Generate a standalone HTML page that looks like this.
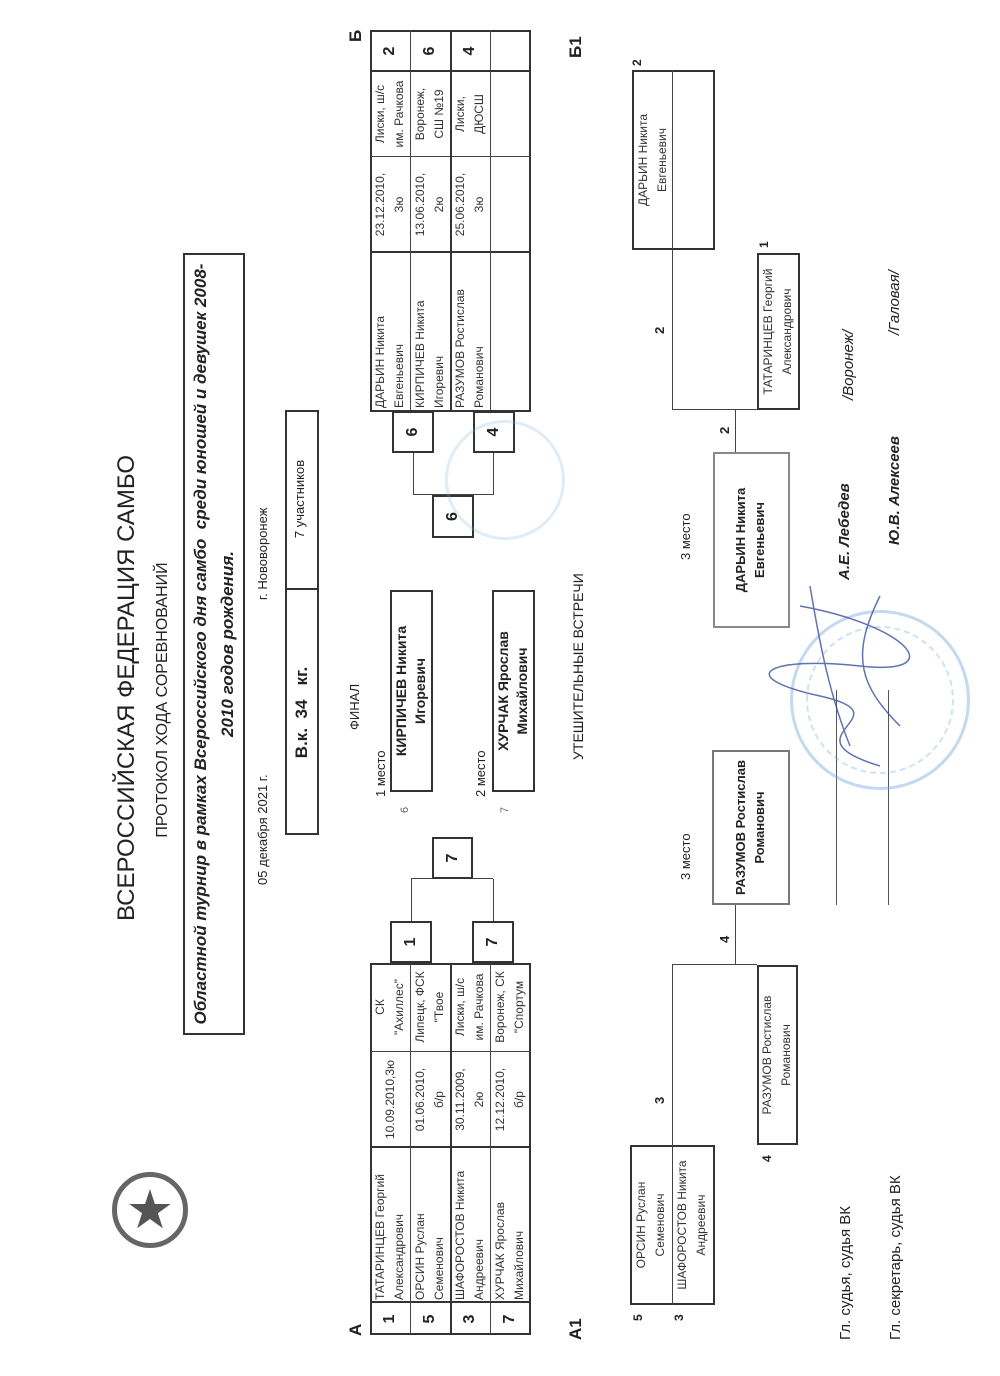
<!DOCTYPE html>
<html><head><meta charset="utf-8"><style>
html,body{margin:0;padding:0;background:#fff;}
body{width:1000px;height:1376px;overflow:hidden;position:relative;}
#L{position:absolute;left:0;top:0;width:1376px;height:1000px;transform-origin:0 0;transform:translateY(1376px) rotate(-90deg);font-family:"Liberation Sans Narrow","Liberation Sans",sans-serif;color:#222;}
#L div{position:absolute;box-sizing:border-box;}
.b{border:2px solid #333;}
.c{text-align:center;}
.s{font-size:12px;line-height:19px;color:#333;}
.n{font-weight:bold;font-size:16px;display:flex;align-items:center;justify-content:center;font-family:"Liberation Sans",sans-serif;}
.hl{height:0;border-top:1px solid #444;}
.vl{width:0;border-left:1px solid #444;}
.cell{padding-left:2px;overflow:hidden;white-space:nowrap;}
</style></head><body>
<div id="L">
<div style="left:128px;top:112px;width:76px;height:76px;border-radius:50%;border:5px solid #666;"></div>
<div style="left:128px;top:112px;width:76px;height:76px;font-size:54px;line-height:76px;text-align:center;color:#555;transform:rotate(90deg);">★</div>

<div style="left:420px;top:113px;width:536px;font-size:24px;text-align:center;font-family:'Liberation Sans',sans-serif;">ВСЕРОССИЙСКАЯ ФЕДЕРАЦИЯ САМБО</div>
<div style="left:476px;top:154px;width:400px;font-size:16px;text-align:center;font-family:'Liberation Sans',sans-serif;">ПРОТОКОЛ ХОДА СОРЕВНОВАНИЙ</div>
<div class="b" style="left:341px;top:183px;width:782px;height:62px;"></div>
<div style="left:343px;top:187px;width:778px;font-size:17px;line-height:27px;text-align:center;font-weight:bold;font-style:italic;white-space:nowrap;font-family:'Liberation Sans Narrow','Liberation Sans',sans-serif;">Областной турнир в рамках Всероссийского дня самбо &nbsp;среди юношей и девушек 2008-<br>2010 годов рождения.</div>
<div style="left:491px;top:255px;font-size:13px;">05 декабря 2021 г.</div>
<div style="left:776px;top:255px;font-size:13px;">г. Нововоронеж</div>
<div class="b" style="left:541px;top:285px;width:425px;height:34px;"></div>
<div class="vl" style="left:786px;top:285px;height:34px;border-left:2px solid #333;"></div>
<div style="left:541px;top:292px;width:245px;text-align:center;font-weight:bold;font-size:17px;font-family:'Liberation Sans',sans-serif;">В.к. &nbsp;34 &nbsp;&nbsp;кг.</div>
<div style="left:788px;top:292px;width:178px;font-size:13px;text-align:center;">7 участников</div>

<div style="left:40px;top:346px;font-size:17px;font-weight:bold;font-family:'Liberation Sans',sans-serif;">А</div>
<div class="b" style="left:41px;top:370px;width:372px;height:161px;"></div>
<div class="vl" style="left:73px;top:370px;height:161px;border-left:2px solid #333;"></div>
<div class="vl" style="left:228px;top:370px;height:161px;border-left:2px solid #333;"></div>
<div class="vl" style="left:324px;top:370px;height:161px;"></div>
<div class="hl" style="left:41px;top:410px;width:372px;"></div>
<div class="hl" style="left:41px;top:450px;width:372px;border-top:2px solid #333;"></div>
<div class="hl" style="left:41px;top:490px;width:372px;"></div>
<div class="n" style="left:41px;top:370px;width:32px;height:40px;">1</div>
<div class="n" style="left:41px;top:410px;width:32px;height:40px;">5</div>
<div class="n" style="left:41px;top:450px;width:32px;height:40px;">3</div>
<div class="n" style="left:41px;top:490px;width:32px;height:40px;">7</div>
<div class="s cell" style="left:74px;top:371px;width:154px;">ТАТАРИНЦЕВ Георгий<br>Александрович</div>
<div class="s cell" style="left:74px;top:411px;width:154px;">ОРСИН Руслан<br>Семенович</div>
<div class="s cell" style="left:74px;top:451px;width:154px;">ШАФОРОСТОВ Никита<br>Андреевич</div>
<div class="s cell" style="left:74px;top:491px;width:154px;">ХУРЧАК Ярослав<br>Михайлович</div>
<div class="s c" style="left:229px;top:381px;width:95px;">10.09.2010,3ю</div>
<div class="s c" style="left:229px;top:411px;width:95px;">01.06.2010,<br>б/р</div>
<div class="s c" style="left:229px;top:451px;width:95px;">30.11.2009,<br>2ю</div>
<div class="s c" style="left:229px;top:491px;width:95px;">12.12.2010,<br>б/р</div>
<div class="s c" style="left:325px;top:371px;width:88px;">СК<br>"Ахиллес"</div>
<div class="s c" style="left:325px;top:411px;width:88px;">Липецк, ФСК<br>"Твое</div>
<div class="s c" style="left:325px;top:451px;width:88px;">Лиски, ш/с<br>им. Рачкова</div>
<div class="s c" style="left:325px;top:491px;width:88px;">Воронеж, СК<br>"Спортум</div>
<div class="b n" style="left:413px;top:390px;width:42px;height:42px;">1</div>
<div class="b n" style="left:413px;top:472px;width:42px;height:42px;">7</div>
<div class="hl" style="left:455px;top:411px;width:42px;"></div>
<div class="hl" style="left:455px;top:493px;width:42px;"></div>
<div class="vl" style="left:497px;top:411px;height:82px;"></div>
<div class="b n" style="left:497px;top:432px;width:42px;height:41px;">7</div>

<div style="left:646px;top:347px;font-size:13px;">ФИНАЛ</div>
<div style="left:579px;top:373px;font-size:13px;">1 место</div>
<div style="left:563px;top:399px;font-size:11px;color:#666;">6</div>
<div class="b" style="left:584px;top:390px;width:202px;height:43px;"></div>
<div class="c" style="left:584px;top:392px;width:202px;font-size:14px;line-height:19px;font-weight:bold;">КИРПИЧЕВ Никита<br>Игоревич</div>
<div style="left:579px;top:473px;font-size:13px;">2 место</div>
<div style="left:563px;top:499px;font-size:11px;color:#666;">7</div>
<div class="b" style="left:584px;top:492px;width:202px;height:43px;"></div>
<div class="c" style="left:584px;top:494px;width:202px;font-size:14px;line-height:19px;font-weight:bold;">ХУРЧАК Ярослав<br>Михайлович</div>

<div style="left:1334px;top:346px;font-size:17px;font-weight:bold;font-family:'Liberation Sans',sans-serif;">Б</div>
<div class="b" style="left:964px;top:370px;width:382px;height:161px;"></div>
<div class="vl" style="left:1123px;top:370px;height:161px;border-left:2px solid #333;"></div>
<div class="vl" style="left:1219px;top:370px;height:161px;"></div>
<div class="vl" style="left:1304px;top:370px;height:161px;border-left:2px solid #333;"></div>
<div class="hl" style="left:964px;top:410px;width:382px;"></div>
<div class="hl" style="left:964px;top:450px;width:382px;border-top:2px solid #333;"></div>
<div class="hl" style="left:964px;top:490px;width:382px;"></div>
<div class="s cell" style="left:966px;top:371px;width:157px;">ДАРЬИН Никита<br>Евгеньевич</div>
<div class="s cell" style="left:966px;top:411px;width:157px;">КИРПИЧЕВ Никита<br>Игоревич</div>
<div class="s cell" style="left:966px;top:451px;width:157px;">РАЗУМОВ Ростислав<br>Романович</div>
<div class="s c" style="left:1124px;top:371px;width:95px;">23.12.2010,<br>3ю</div>
<div class="s c" style="left:1124px;top:411px;width:95px;">13.06.2010,<br>2ю</div>
<div class="s c" style="left:1124px;top:451px;width:95px;">25.06.2010,<br>3ю</div>
<div class="s c" style="left:1220px;top:371px;width:84px;">Лиски, ш/с<br>им. Рачкова</div>
<div class="s c" style="left:1220px;top:411px;width:84px;">Воронеж,<br>СШ №19</div>
<div class="s c" style="left:1220px;top:451px;width:84px;">Лиски,<br>ДЮСШ</div>
<div class="n" style="left:1304px;top:370px;width:42px;height:40px;">2</div>
<div class="n" style="left:1304px;top:410px;width:42px;height:40px;">6</div>
<div class="n" style="left:1304px;top:450px;width:42px;height:40px;">4</div>
<div class="b n" style="left:923px;top:392px;width:42px;height:42px;">6</div>
<div class="b n" style="left:923px;top:473px;width:42px;height:42px;">4</div>
<div class="hl" style="left:881px;top:413px;width:42px;"></div>
<div class="hl" style="left:881px;top:493px;width:42px;"></div>
<div class="vl" style="left:881px;top:413px;height:80px;"></div>
<div class="b n" style="left:838px;top:432px;width:43px;height:42px;">6</div>

<div style="left:616px;top:570px;font-size:14px;">УТЕШИТЕЛЬНЫЕ ВСТРЕЧИ</div>
<div style="left:36px;top:566px;font-size:17px;font-weight:bold;font-family:'Liberation Sans',sans-serif;">А1</div>
<div style="left:1318px;top:566px;font-size:17px;font-weight:bold;font-family:'Liberation Sans',sans-serif;">Б1</div>

<div class="b" style="left:71px;top:630px;width:160px;height:85px;"></div>
<div class="hl" style="left:71px;top:672px;width:160px;"></div>
<div class="c s" style="left:71px;top:632px;width:160px;">ОРСИН Руслан<br>Семенович</div>
<div class="c s" style="left:71px;top:673px;width:160px;">ШАФОРОСТОВ Никита<br>Андреевич</div>
<div style="left:55px;top:631px;font-size:12px;font-weight:bold;">5</div>
<div style="left:55px;top:672px;font-size:12px;font-weight:bold;">3</div>
<div class="hl" style="left:231px;top:672px;width:180px;"></div>
<div style="left:272px;top:652px;font-size:13px;font-weight:bold;">3</div>
<div class="vl" style="left:411px;top:672px;height:85px;"></div>
<div class="b" style="left:231px;top:757px;width:180px;height:41px;"></div>
<div class="c s" style="left:231px;top:758px;width:180px;">РАЗУМОВ Ростислав<br>Романович</div>
<div style="left:214px;top:760px;font-size:12px;font-weight:bold;">4</div>
<div class="hl" style="left:411px;top:735px;width:60px;"></div>
<div style="left:433px;top:717px;font-size:13px;font-weight:bold;">4</div>
<div class="b" style="left:471px;top:712px;width:155px;height:78px;border-color:#777;"></div>
<div class="c" style="left:471px;top:731px;width:155px;font-size:13px;line-height:19px;font-weight:bold;">РАЗУМОВ Ростислав<br>Романович</div>
<div style="left:496px;top:678px;font-size:13px;">3 место</div>

<div class="b" style="left:1126px;top:632px;width:180px;height:83px;"></div>
<div class="hl" style="left:1126px;top:672px;width:180px;"></div>
<div class="c s" style="left:1126px;top:634px;width:180px;">ДАРЬИН Никита<br>Евгеньевич</div>
<div style="left:1310px;top:630px;font-size:12px;font-weight:bold;">2</div>
<div class="hl" style="left:966px;top:672px;width:160px;"></div>
<div style="left:1042px;top:652px;font-size:13px;font-weight:bold;">2</div>
<div class="vl" style="left:966px;top:672px;height:85px;"></div>
<div class="b" style="left:966px;top:757px;width:157px;height:43px;"></div>
<div class="c s" style="left:966px;top:759px;width:157px;">ТАТАРИНЦЕВ Георгий<br>Александрович</div>
<div style="left:1128px;top:757px;font-size:12px;font-weight:bold;">1</div>
<div class="hl" style="left:924px;top:735px;width:42px;"></div>
<div style="left:942px;top:717px;font-size:13px;font-weight:bold;">2</div>
<div class="b" style="left:748px;top:713px;width:176px;height:77px;border-color:#888;"></div>
<div class="c" style="left:748px;top:731px;width:176px;font-size:13px;line-height:19px;font-weight:bold;">ДАРЬИН Никита<br>Евгеньевич</div>
<div style="left:816px;top:678px;font-size:13px;">3 место</div>

<div style="left:36px;top:837px;font-size:15px;">Гл. судья, судья ВК</div>
<div style="left:36px;top:887px;font-size:15px;">Гл. секретарь, судья ВК</div>
<div class="hl" style="left:471px;top:836px;width:215px;border-top-color:#555;"></div>
<div class="hl" style="left:471px;top:888px;width:215px;border-top-color:#555;"></div>
<div style="left:796px;top:836px;font-size:15px;font-weight:bold;font-style:italic;">А.Е. Лебедев</div>
<div style="left:976px;top:840px;font-size:15px;font-style:italic;">/Воронеж/</div>
<div style="left:831px;top:886px;font-size:15px;font-weight:bold;font-style:italic;">Ю.В. Алексеев</div>
<div style="left:1041px;top:886px;font-size:15px;font-style:italic;">/Галовая/</div>

<div style="left:586px;top:790px;width:180px;height:180px;border-radius:50%;border:3px solid rgba(120,170,220,0.45);"></div>
<div style="left:602px;top:806px;width:148px;height:148px;border-radius:50%;border:2px dashed rgba(120,170,220,0.35);"></div>
<div style="left:836px;top:445px;width:120px;height:120px;border-radius:50%;border:3px solid rgba(130,180,225,0.25);"></div>
<svg style="position:absolute;left:600px;top:760px;" width="200" height="160"><path d="M10 120 C40 20,60 150,80 60 S120 10,110 100 S150 150,170 40 M30 90 C80 70,130 60,190 50 M50 140 C90 100,120 90,180 120" stroke="#3a4fa0" stroke-width="1.5" fill="none" opacity="0.8"/></svg>
</div>
</body></html>
